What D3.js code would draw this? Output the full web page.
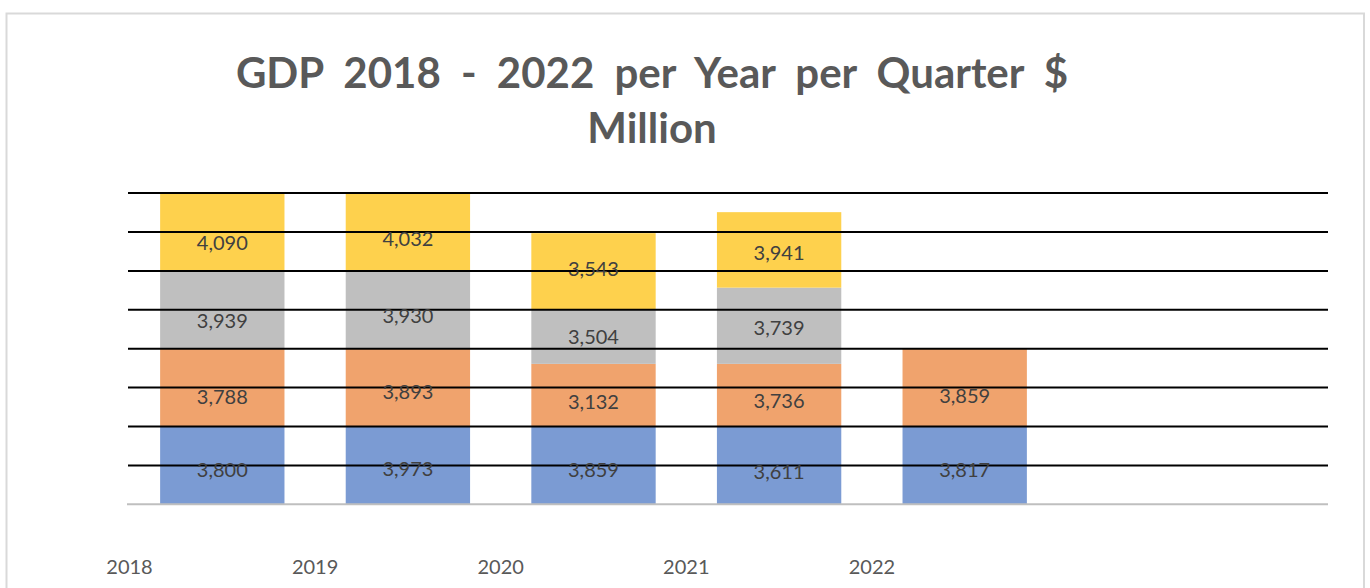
<!DOCTYPE html>
<html>
<head>
<meta charset="utf-8">
<script src="https://cdn.jsdelivr.net/npm/d3@7"></script>
<style>
  body { margin: 0; background: #fff; }
  svg { display: block; font-family: Lato, "Open Sans", sans-serif; }
</style>
</head>
<body>
<div id="chart"></div>
<script>
// Years on the x axis
var years = ["2018", "2019", "2020", "2021", "2022"];

// GDP per quarter, $ million (the printed labels)
var q1 = [3800, 3973, 3859, 3611, 3817];
var q2 = [3788, 3893, 3132, 3736, 3859];
var q3 = [3939, 3930, 3504, 3739, null];
var q4 = [4090, 4032, 3543, 3941, null];

// Segment heights as drawn in the picture (axis units, gridline = 2000)
var q1Drawn = [4000, 4000, 4000, 4000, 4000];
var q2Drawn = [4000, 4000, 3220, 3220, 4000];
var q3Drawn = [4000, 4000, 2780, 3920, null];
var q4Drawn = [4000, 4000, 3940, 3880, null];

var gridTicks = [0, 2000, 4000, 6000, 8000, 10000, 12000, 14000, 16000];
var colors = ["#7b9bd3", "#f0a36d", "#bfbfbf", "#fed14d"];

var width = 1370, height = 588;

var svg = d3.select("#chart")
    .append("svg")
    .attr("width", width)
    .attr("height", height);

// outer chart frame
svg.append("rect")
    .attr("x", 6.5).attr("y", 13.5)
    .attr("width", 1357.5).attr("height", 600)
    .attr("fill", "none")
    .attr("stroke", "#d9d9d9")
    .attr("stroke-width", 2);

// title
var title = svg.append("text")
    .attr("text-anchor", "middle")
    .attr("fill", "#595959")
    .style("font-weight", "bold")
    .style("font-size", "42px");
title.append("tspan").attr("x", 652).attr("y", 88)
    .style("word-spacing", "10px")
    .text("GDP 2018 - 2022 per Year per Quarter $");
title.append("tspan").attr("x", 652).attr("y", 143).text("Million");

// scales
var x = d3.scaleBand()
    .domain(years)
    .range([129.5, 1057.5])
    .paddingInner(0.33)
    .paddingOuter(0.165);

var y = d3.scaleLinear()
    .domain([0, 16000])
    .range([504.3, 193.1]);

// build rows for stacking
var drawn = [q1Drawn, q2Drawn, q3Drawn, q4Drawn];
var labels = [q1, q2, q3, q4];

var rows = years.map(function (yr, i) {
    var r = { year: yr };
    drawn.forEach(function (s, k) { r["q" + k] = s[i] || 0; });
    return r;
});
var keys = ["q0", "q1", "q2", "q3"];
var stacked = d3.stack().keys(keys)(rows);

// bars
svg.append("g").selectAll("g")
    .data(stacked)
    .enter()
    .append("g")
    .attr("fill", function (d, k) { return colors[k]; })
    .selectAll("rect")
    .data(function (d) { return d; })
    .enter()
    .filter(function (d) { return d[1] > d[0]; })
    .append("rect")
    .attr("x", function (d) { return x(d.data.year); })
    .attr("width", x.bandwidth())
    .attr("y", function (d) { return y(d[1]); })
    .attr("height", function (d) { return y(d[0]) - y(d[1]); });

// gridlines (drawn over the bars)
svg.append("g").selectAll("line")
    .data(gridTicks.filter(function (t) { return t > 0; }))
    .enter()
    .append("line")
    .attr("x1", 128).attr("x2", 1328)
    .attr("y1", function (d) { return y(d); })
    .attr("y2", function (d) { return y(d); })
    .attr("stroke", "#000")
    .attr("stroke-width", 2);

// baseline
svg.append("line")
    .attr("x1", 127).attr("x2", 1328)
    .attr("y1", y(0)).attr("y2", y(0))
    .attr("stroke", "#bfbfbf")
    .attr("stroke-width", 2);

// value labels, placed at the centre of each value's own stack slice
var labelData = [];
years.forEach(function (yr, i) {
    var base = 0;
    labels.forEach(function (s) {
        var v = s[i];
        if (v == null) return;
        labelData.push({ year: yr, value: v, mid: base + v / 2 });
        base += v;
    });
});

svg.append("g").selectAll("text")
    .data(labelData)
    .enter()
    .append("text")
    .attr("x", function (d) { return x(d.year) + x.bandwidth() / 2; })
    .attr("y", function (d) { return y(d.mid) + 10; })
    .attr("text-anchor", "middle")
    .attr("fill", "#404040")
    .style("font-size", "20px")
    .text(function (d) { return d3.format(",")(d.value); });

// year labels at the left edge of each band
svg.append("g").selectAll("text")
    .data(years)
    .enter()
    .append("text")
    .attr("x", function (d) { return x(d) - x.step() * 0.165; })
    .attr("y", 574)
    .attr("text-anchor", "middle")
    .attr("fill", "#595959")
    .style("font-size", "20px")
    .text(function (d) { return d; });
</script>
</body>
</html>
